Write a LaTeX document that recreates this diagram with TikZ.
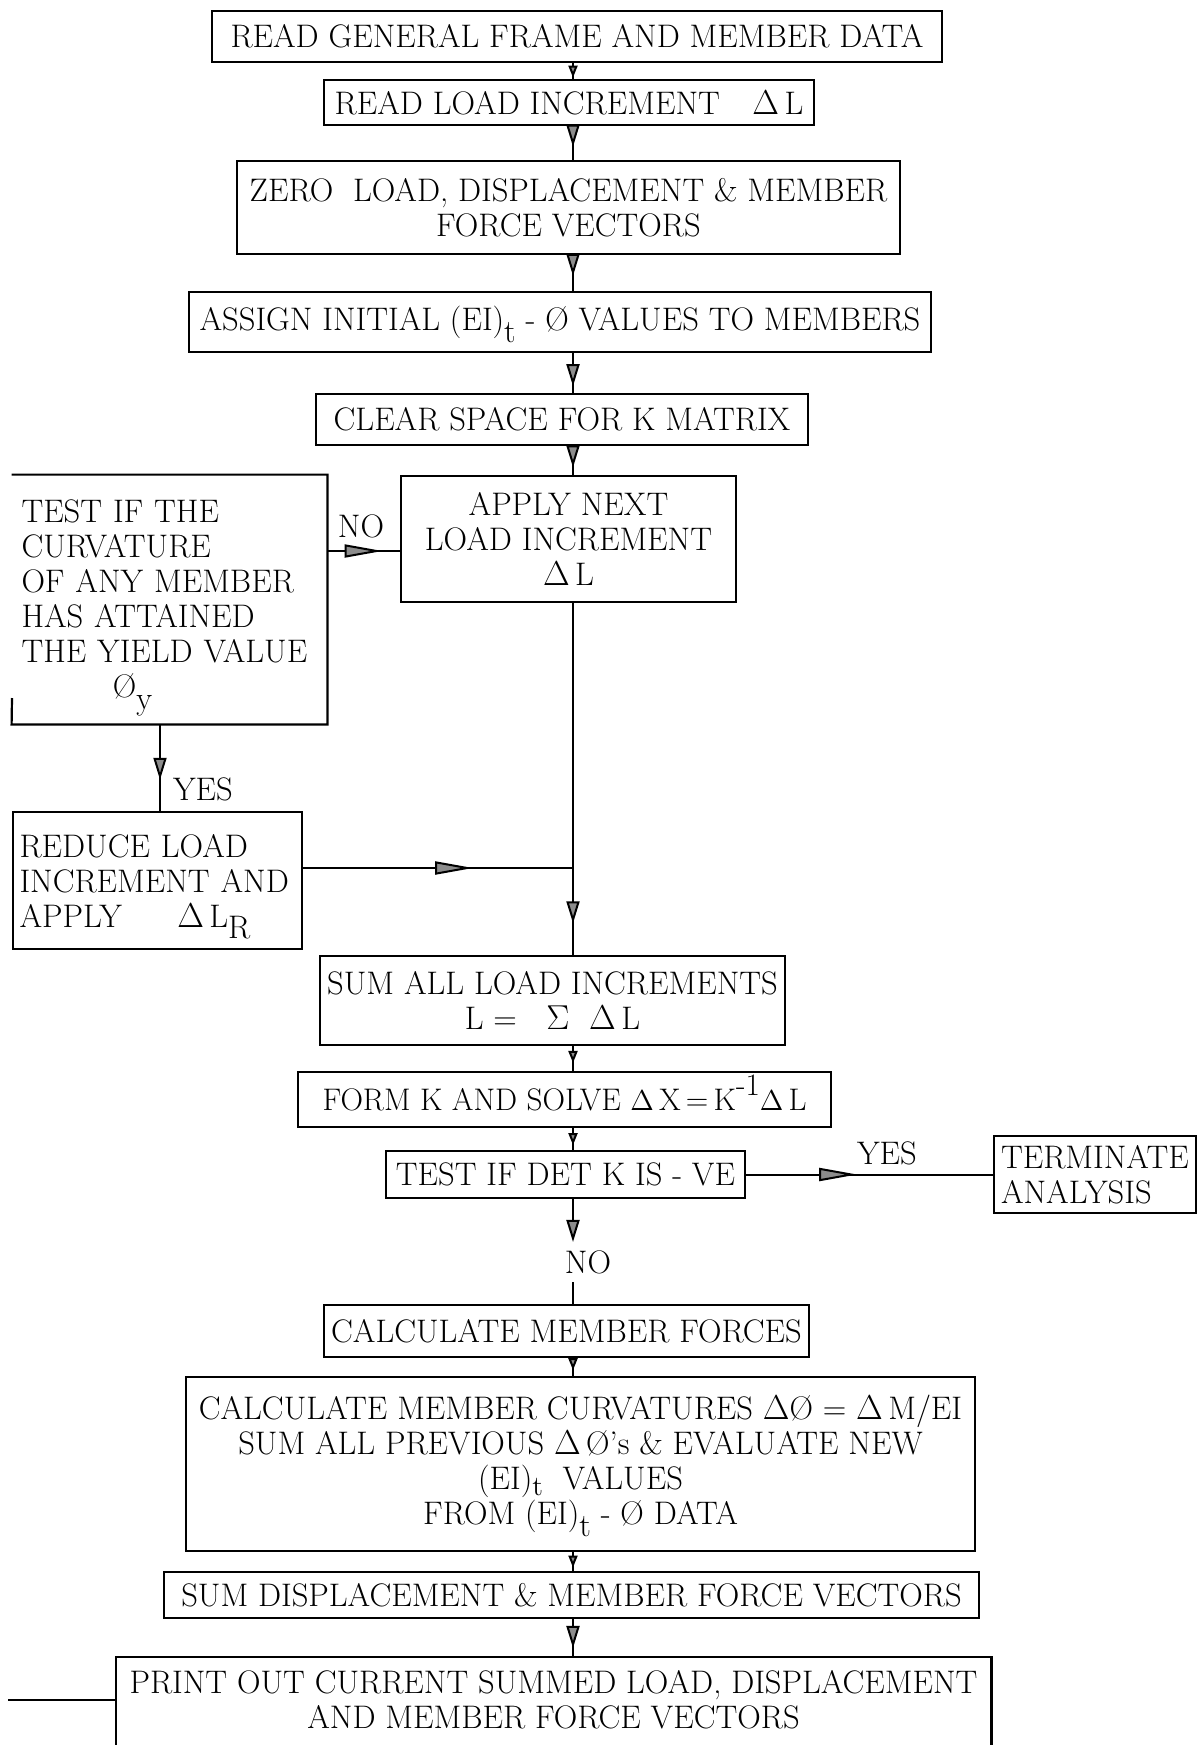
\documentclass[tikz,border=0pt]{standalone}
\usetikzlibrary{arrows.meta,decorations.markings,calc}

% lowered and raised indices as typed on the original sheet
\newcommand{\lo}[1]{\smash{\raisebox{-0.85ex}{#1}}}
\newcommand{\los}[1]{\smash{\raisebox{-0.45ex}{\fontsize{14}{14}\selectfont #1}}}
\newcommand{\hi}[1]{\smash{\raisebox{1.1ex}{#1}}}

\tikzset{
  vtip/.tip={Triangle[length=11pt,width=6.5pt,fill=black!45]},
  stip/.tip={Triangle[length=6pt,width=4.5pt,fill=black!45]},
  htip/.tip={Triangle[length=19pt,width=6.5pt,fill=black!45]},
  box/.style={draw, line width=1.1pt, inner sep=0pt, align=center},
  openbox/.style={draw=none, inner sep=0pt, align=center},
  edge/.style={line width=1.1pt},
  flow/.style={line width=1pt},
  lbl/.style={inner sep=2pt},
  markat/.style 2 args={postaction={decorate},
    decoration={markings, mark=at position #1 with {\arrow{#2}}}},
}

\begin{document}
\begin{tikzpicture}[x=0.5pt, y=-0.5pt,
  every node/.append style={font=\fontsize{16.3}{17.5}\selectfont}]
\path[use as bounding box, fill=white] (0,0) rectangle (1199,1745);

\coordinate (axis) at (573,0);
\coordinate (ycol) at (160,0);

% ---- process boxes ----
\node[box, minimum width=365pt, minimum height=25.5pt] (b1) at (577,36.5)
  {READ GENERAL FRAME AND MEMBER DATA};
\node[box, minimum width=245pt, minimum height=22.5pt] (b2) at (569,102.5)
  {READ LOAD INCREMENT\quad $\Delta$\,L};
\node[box, minimum width=331.5pt, minimum height=46.5pt] (b3) at (568.5,207.5)
  {ZERO\ \ LOAD, DISPLACEMENT \& MEMBER\\FORCE VECTORS};
\node[box, minimum width=371pt, minimum height=30pt] (b4) at (560,322)
  {ASSIGN INITIAL (EI)\lo{t} - \O\ VALUES TO MEMBERS};
\node[box, minimum width=246pt, minimum height=25.5pt] (b5) at (562,419.5)
  {CLEAR SPACE FOR K MATRIX};
\node[box, minimum width=167.5pt, minimum height=63pt] (b6) at (568.5,539)
  {APPLY NEXT\\LOAD INCREMENT\\$\Delta$\,L};
\node[openbox, minimum width=157.5pt, minimum height=124.5pt, text width=148pt, align=left] (b7) at (169.5,599.5)
  {TEST IF THE\\CURVATURE\\OF ANY MEMBER\\HAS ATTAINED\\THE YIELD VALUE\\\hspace*{2.8em}\O\lo{y}};
\node[box, minimum width=144.5pt, minimum height=68.5pt, text width=138pt, align=left] (b8) at (157.5,880.5)
  {REDUCE LOAD\\INCREMENT AND\\APPLY\hspace{1.7em}$\Delta$\,L\lo{R}};
\node[box, minimum width=232.5pt, minimum height=44.5pt] (b9) at (552.5,1000.5)
  {SUM ALL LOAD INCREMENTS\\L =\ \ \ $\Sigma$\ \ $\Delta$\,L};
\node[box, minimum width=266.5pt, minimum height=27.5pt,
      font=\fontsize{15.6}{17.5}\selectfont] (b10) at (564.5,1099.5)
  {FORM K AND SOLVE\ $\Delta$\,X\,=\,K\hi{-1}$\Delta$\,L};
\node[box, minimum width=179.5pt, minimum height=23.5pt] (b11) at (565.5,1174.5)
  {TEST IF DET K IS - VE};
\node[box, minimum width=101pt, minimum height=38.5pt, text width=94pt, align=left] (b12) at (1095,1174.5)
  {TERMINATE\\ANALYSIS};
\node[box, minimum width=242.5pt, minimum height=26pt] (b13) at (566.5,1331)
  {CALCULATE MEMBER FORCES};
\node[box, minimum width=394.5pt, minimum height=87pt] (b14) at (580.5,1464)
  {CALCULATE MEMBER CURVATURES $\Delta$\O\ = $\Delta$\,M/EI\\
   SUM ALL PREVIOUS $\Delta$\,\O's \& EVALUATE NEW\\
   (EI)\los{t}\ \ VALUES\\
   FROM (EI)\lo{t} - \O\ DATA};
\node[box, minimum width=407.5pt, minimum height=23pt] (b15) at (571.5,1595)
  {SUM DISPLACEMENT \& MEMBER FORCE VECTORS};
\node[openbox, minimum width=437.5pt, minimum height=43pt] (b16) at (553.5,1700)
  {PRINT OUT CURRENT SUMMED LOAD, DISPLACEMENT\\AND MEMBER FORCE VECTORS};

% outlines of the boxes that are not closed on the sheet
\draw[edge] (12,698) -- (b7.south west) -- (b7.south east) -- (b7.north east) -- (b7.north west);
\draw[edge] ($(b16.south west)+(0,40)$) -- (b16.north west) -- (b16.north east) -- ($(b16.south east)+(0,40)$);

% ---- branch labels ----
\node[lbl] (noA)  at (361,526)  {NO};
\node[lbl] (yesA) at (203,789)  {YES};
\node[lbl] (yesB) at (887,1153) {YES};
\node[lbl, inner sep=4pt] (noB) at (588,1262) {NO};

\coordinate (join) at (573,868);
\coordinate (nopt) at ([yshift=-6pt]b6.west);
\coordinate (outend) at (8,1700);

% ---- main flow ----
\draw[flow, markat={0.92}{stip}] (b1.south -| axis) -- (b2.north -| axis);
\draw[flow, markat={0.61}{vtip}] (b2.south -| axis) -- (b3.north -| axis);
\draw[flow, markat={0.58}{vtip}] (b3.south -| axis) -- (b4.north -| axis);
\draw[flow, markat={0.83}{vtip}] (b4.south -| axis) -- (b5.north -| axis);
\draw[flow, markat={0.74}{vtip}] (b5.south -| axis) -- (b6.north -| axis);
\draw[flow, markat={0.91}{vtip}] (b6.south -| axis) -- (b9.north -| axis);
\draw[flow, markat={0.76}{htip}] (b7.east |- nopt) -- (nopt);
\draw[flow, markat={0.64}{vtip}] (ycol |- b7.south) -- (ycol |- b8.north);
\draw[flow, markat={0.63}{htip}] (b8.east |- join) -- (join);
\draw[flow, markat={0.68}{stip}] (b9.south -| axis) -- (b10.north -| axis);
\draw[flow, markat={0.78}{stip}] (b10.south -| axis) -- (b11.north -| axis);
\draw[flow, markat={0.45}{htip}] (b11.east) -- (b12.west);
\draw[flow, -{vtip}] (b11.south -| axis) -- (noB.north -| axis);
\draw[flow] (noB.south -| axis) -- (b13.north -| axis);
\draw[flow, markat={0.68}{stip}] (b13.south -| axis) -- (b14.north -| axis);
\draw[flow, markat={0.82}{stip}] (b14.south -| axis) -- (b15.north -| axis);
\draw[flow, markat={0.77}{vtip}] (b15.south -| axis) -- (b16.north -| axis);
\draw[flow] (b16.west |- outend) -- (outend);
\end{tikzpicture}
\end{document}
